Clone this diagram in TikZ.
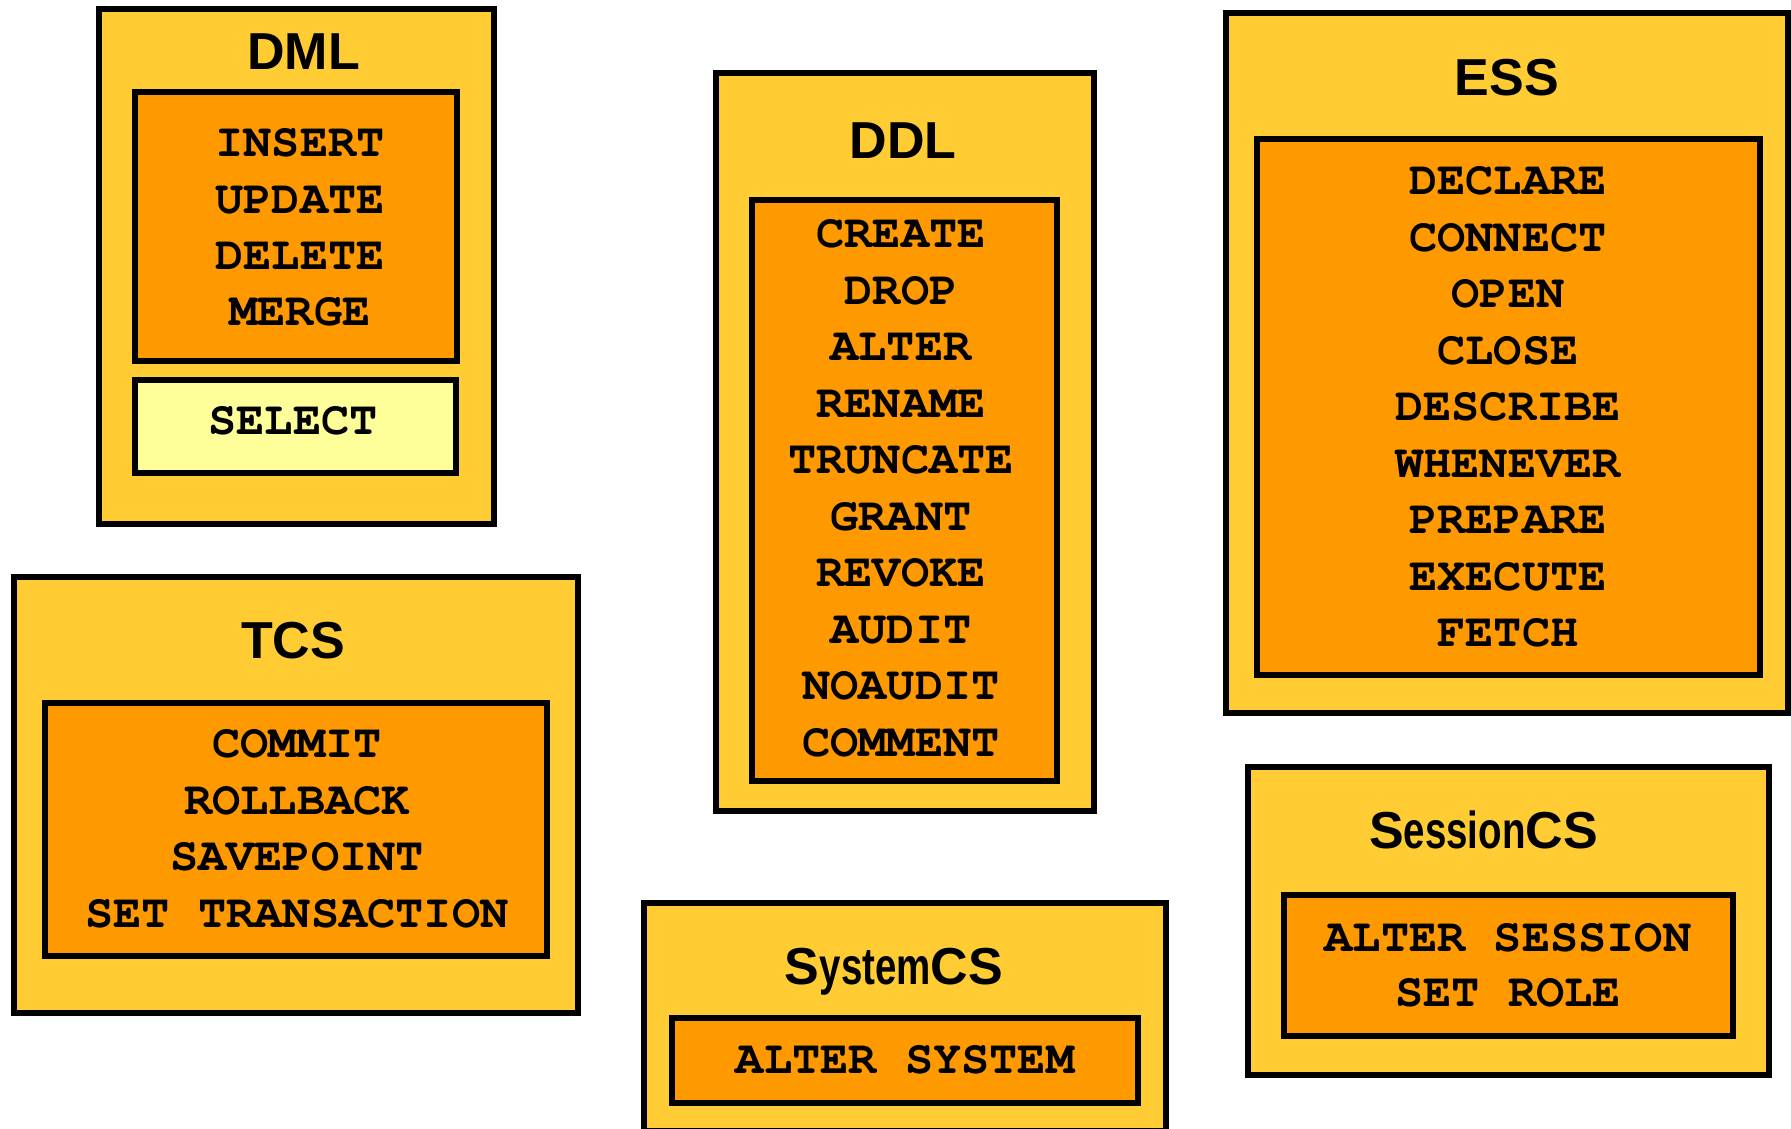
\documentclass[tikz,border=0pt]{standalone}
\usepackage{fontspec}
\usepackage{graphicx}
\usetikzlibrary{fit}
\newfontfamily\headfont{Liberation Sans}
\newfontfamily\codefont{TeX Gyre Cursor}
\definecolor{boxyellow}{HTML}{FFCC33}
\definecolor{boxorange}{HTML}{FF9900}
\definecolor{boxpale}{HTML}{FFFF99}
\newcommand{\narrow}[1]{\scalebox{0.74}[1]{#1}}
\tikzset{
  group/.style={rectangle, draw=black, line width=6pt, fill=boxyellow, inner sep=0pt, outer sep=0pt},
  cmdset/.style={rectangle, draw=black, line width=6pt, fill=boxorange, inner sep=0pt, outer sep=0pt},
  queryset/.style={cmdset, fill=boxpale},
  heading/.style={font=\headfont\bfseries\fontsize{52}{60}\selectfont, anchor=base, inner sep=0pt},
  cmd/.style={font=\codefont\bfseries\fontsize{47}{56}\selectfont, anchor=base, inner sep=0pt}
}
\begin{document}
\begin{tikzpicture}[x=1pt, y=-1pt]
\useasboundingbox (0,0) rectangle (1791,1129);
\clip (0,0) rectangle (1791,1129);

% ---- DML ----
\node[group, fit={(98.5,9) (493.5,524)}] (dml) {};
\node[cmdset, fit={(134.7,92.5) (457.3,361)}] (dmlset) {};
\node[queryset, fit={(135,379.5) (456,472.5)}] (selset) {};
\node[heading] (dmlh) at (303.6,70) {DML};
\foreach \w [count=\i from 0] in {INSERT,UPDATE,DELETE,MERGE}
  \node[cmd] (dml\i) at (300,157+56.3*\i) {\w};
\node[cmd] (sel) at (293,434.6) {SELECT};

% ---- DDL ----
\node[group, fit={(715.5,73) (1093.5,811)}] (ddl) {};
\node[cmdset, fit={(752,200) (1057,781)}] (ddlset) {};
\node[heading] (ddlh) at (903,158) {DDL};
\foreach \w [count=\i from 0] in {CREATE,DROP,ALTER,RENAME,TRUNCATE,GRANT,REVOKE,AUDIT,NOAUDIT,COMMENT}
  \node[cmd] (ddl\i) at (901,247.5+56.5*\i) {\w};

% ---- ESS ----
\node[group, fit={(1226.4,13) (1788,712.5)}] (ess) {};
\node[cmdset, fit={(1257,139) (1759.5,675)}] (essset) {};
\node[heading] (essh) at (1507,96) {ESS};
\foreach \w [count=\i from 0] in {DECLARE,CONNECT,OPEN,CLOSE,DESCRIBE,WHENEVER,PREPARE,EXECUTE,FETCH}
  \node[cmd] (ess\i) at (1508,194.6+56.5*\i) {\w};

% ---- TCS ----
\node[group, fit={(13.5,577) (577.5,1013)}] (tcs) {};
\node[cmdset, fit={(44.5,702.5) (547,956)}] (tcsset) {};
\node[heading] (tcsh) at (293,658.7) {TCS};
\foreach \w [count=\i from 0] in {COMMIT,ROLLBACK,SAVEPOINT,SET TRANSACTION}
  \node[cmd] (tcs\i) at (297,757.8+56.5*\i) {\w};

% ---- SystemCS ----
\node[group, fit={(644,903) (1166,1131)}] (sys) {};
\node[cmdset, fit={(672,1018) (1138,1103)}] (sysset) {};
\node[heading] (sysh) at (894,984.5) {S\narrow{ystem}CS};
\node[cmd] (sys0) at (905,1073.4) {ALTER SYSTEM};

% ---- SessionCS ----
\node[group, fit={(1248,767) (1768.5,1075)}] (ses) {};
\node[cmdset, fit={(1283.5,895) (1733,1036)}] (sesset) {};
\node[heading] (sesh) at (1483.5,848) {S\narrow{ession}CS};
\node[cmd] (ses0) at (1508,951) {ALTER SESSION};
\node[cmd] (ses1) at (1508,1006) {SET ROLE};
\end{tikzpicture}
\end{document}
